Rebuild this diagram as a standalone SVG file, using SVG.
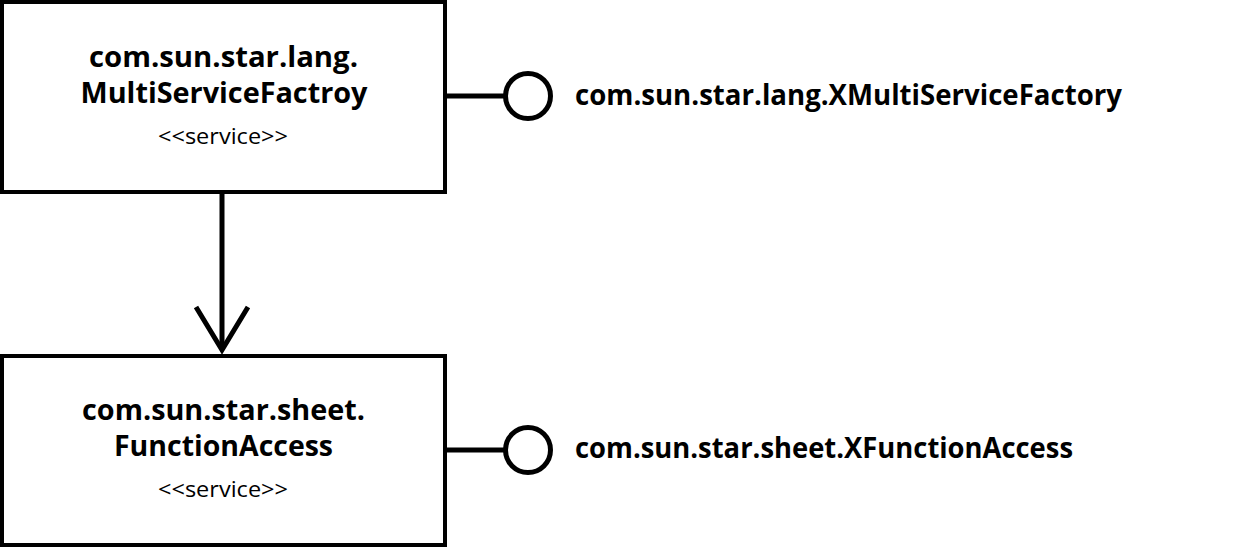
<svg xmlns="http://www.w3.org/2000/svg" width="1238" height="549" viewBox="0 0 1238 549">
<style>
.box{fill:#fff;stroke:#000;stroke-width:4}
.ln{fill:none;stroke:#000;stroke-width:5;stroke-linecap:butt}
.ball{fill:#fff;stroke:#000;stroke-width:5}
.t{font-family:"Open Sans","Liberation Sans",sans-serif;font-weight:bold;font-size:28px;fill:#000}
.s{font-family:"Open Sans","Liberation Sans",sans-serif;font-size:22px;fill:#000}
</style>
<rect width="1238" height="549" fill="#fff"/>
<g id="connectors">
<line class="ln" x1="222" y1="192" x2="222" y2="350"/>
<polyline class="ln" points="196,307 222,350 248,307" stroke-linejoin="miter"/>
<line class="ln" x1="445" y1="96" x2="506" y2="96"/>
<line class="ln" x1="445" y1="450" x2="506" y2="450"/>
</g>
<g id="MultiServiceFactory">
<rect class="box" x="2" y="2" width="443" height="190"/>
<text class="t" x="223.5" y="67" text-anchor="middle" textLength="269" lengthAdjust="spacingAndGlyphs">com.sun.star.lang.</text>
<text class="t" x="224" y="103" text-anchor="middle" textLength="287" lengthAdjust="spacingAndGlyphs">MultiServiceFactroy</text>
<text class="s" x="223" y="144" text-anchor="middle" textLength="130" lengthAdjust="spacingAndGlyphs">&lt;&lt;service&gt;&gt;</text>
</g>
<g id="XMultiServiceFactory">
<circle class="ball" cx="528" cy="96" r="22.5"/>
<text class="t" x="575" y="105" textLength="547" lengthAdjust="spacingAndGlyphs">com.sun.star.lang.XMultiServiceFactory</text>
</g>
<g id="FunctionAccess">
<rect class="box" x="2" y="356" width="443" height="189"/>
<text class="t" x="223.5" y="420" text-anchor="middle" textLength="283" lengthAdjust="spacingAndGlyphs">com.sun.star.sheet.</text>
<text class="t" x="223.5" y="456" text-anchor="middle" textLength="219" lengthAdjust="spacingAndGlyphs">FunctionAccess</text>
<text class="s" x="223" y="497" text-anchor="middle" textLength="130" lengthAdjust="spacingAndGlyphs">&lt;&lt;service&gt;&gt;</text>
</g>
<g id="XFunctionAccess">
<circle class="ball" cx="528" cy="450" r="22.5"/>
<text class="t" x="575" y="458" textLength="498" lengthAdjust="spacingAndGlyphs">com.sun.star.sheet.XFunctionAccess</text>
</g>
</svg>
